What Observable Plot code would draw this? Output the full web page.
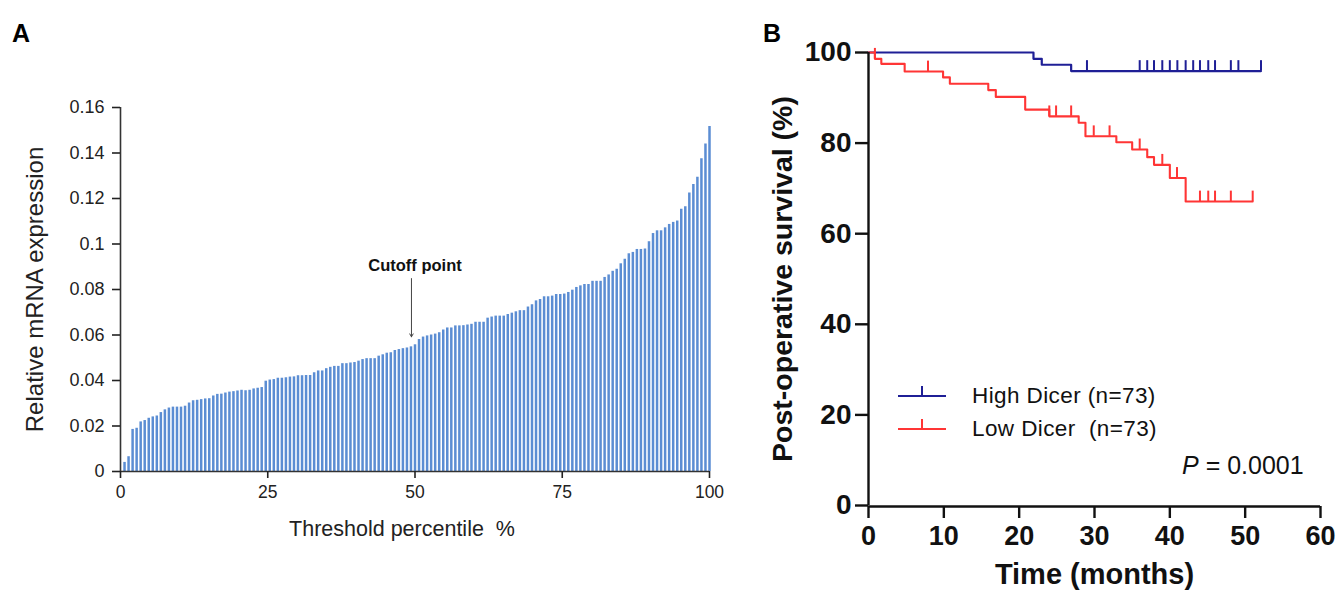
<!DOCTYPE html>
<html><head><meta charset="utf-8">
<script src="https://cdn.jsdelivr.net/npm/d3@7"></script>
<script src="https://cdn.jsdelivr.net/npm/@observablehq/plot@0.6"></script>
<style>
body{margin:0;background:#fff;}
#wrap{position:relative;width:1340px;height:597px;font-family:"Liberation Sans",Arial,sans-serif;overflow:hidden;background:#fff}
#a,#b{position:absolute;top:0}
#a{left:0} #b{left:740px}
.panel{position:absolute;font-weight:bold;font-size:25px;line-height:1}
.leg{position:absolute;display:flex;align-items:center;font-size:22.5px;letter-spacing:0.4px;color:#111}
.leg svg{margin-right:26px}
#pval{position:absolute;left:1182px;top:451px;font-size:25px;color:#111}
</style></head>
<body><div id="wrap">
<div id="a"></div><div id="b"></div>
<div class="panel" style="left:12px;top:21px">A</div>
<div class="panel" style="left:763px;top:21px">B</div>
<div id="legend"></div>
<div id="pval"><i>P</i> = 0.0001</div>
</div>
<script>
// ---------- Panel A data: relative mRNA expression sorted (146 samples) ----------
const expression = [
0.004,0.0065,0.0185,0.019,0.0218,0.0224,0.0234,0.024,0.0244,0.0259,
0.0271,0.0279,0.0283,0.0283,0.0283,0.0287,0.0301,0.0311,0.0313,0.0316,
0.0319,0.032,0.0332,0.0339,0.034,0.0345,0.0349,0.0351,0.0354,0.0357,
0.0355,0.0357,0.0363,0.0366,0.0369,0.0397,0.0402,0.0404,0.041,0.041,
0.0412,0.0415,0.0416,0.0421,0.0421,0.0422,0.0422,0.0434,0.0442,0.0442,
0.0452,0.0458,0.0462,0.0462,0.0474,0.0474,0.0477,0.0479,0.0485,0.0492,
0.0496,0.0496,0.0496,0.0507,0.0513,0.052,0.0522,0.0532,0.0536,0.054,
0.0543,0.0548,0.0557,0.058,0.0591,0.0596,0.060,0.0604,0.061,0.0622,
0.0631,0.0631,0.064,0.064,0.0641,0.0644,0.0647,0.0656,0.0656,0.0656,
0.0674,0.0679,0.0683,0.0683,0.0683,0.069,0.0696,0.0702,0.0707,0.0707,
0.0723,0.0733,0.075,0.0756,0.0768,0.0768,0.0771,0.0778,0.0778,0.078,
0.0787,0.0797,0.0809,0.0816,0.0822,0.0822,0.0836,0.0836,0.0836,0.0853,
0.0864,0.088,0.0889,0.0913,0.0933,0.0957,0.0963,0.0976,0.0976,0.0978,
0.101,0.1046,0.1058,0.1058,0.1071,0.1086,0.1095,0.1101,0.1153,0.1164,
0.1224,0.1262,0.1293,0.1375,0.144,0.1517];
const yTicksA = [0,0.02,0.04,0.06,0.08,0.1,0.12,0.14,0.16];
const xTicksA = [0,25,50,75,100];
const cutoffPercentile = 50;
const cutoffLabel = "Cutoff point";

// ---------- Panel B data: Kaplan-Meier steps ----------
const highTimes    = [0, 21.9, 23.0, 26.9, 52.1];
const highSurvival = [100, 98.6, 97.3, 95.9, 95.9];
const highCensorT  = [29.0,36.0,37.0,37.9,39.0,40.0,41.0,42.1,43.1,44.0,45.1,46.0,48.1,49.1,52.1];
const lowTimes     = [0, 0.85, 1.7, 4.8, 9.9, 10.8, 15.9, 16.9, 20.8, 24.0, 27.9, 28.8, 32.9, 35.0, 37.0, 37.9, 40.0, 42.1, 51.0];
const lowSurvival  = [100, 98.6, 97.5, 95.8, 94.5, 93.1, 91.7, 90.2, 87.4, 85.9, 84.5, 81.5, 80.2, 78.6, 76.9, 75.2, 72.3, 67.1, 67.1];
const lowCensorT   = [0.85, 7.9, 24.0, 24.9, 26.9, 29.9, 32.0, 36.0, 39.0, 40.95, 44.0, 45.1, 46.0, 48.1, 51.0];
const xTicksB = [0,10,20,30,40,50,60];
const yTicksB = [0,20,40,60,80,100];
const groups = [
  {name:"High Dicer (n=73)", color:"#1f1f96"},
  {name:"Low Dicer\u00a0 (n=73)", color:"#ff3535"}
];

// ---------- Panel A ----------
const dataA = expression.map((v,i)=>({p:(i+1)/expression.length*100, v}));
const chartA = Plot.plot({
  width:740, height:597,
  marginLeft:120, marginRight:31, marginTop:107, marginBottom:126,
  style:{fontFamily:"'Liberation Sans',Arial,sans-serif", color:"#222", background:"transparent"},
  x:{domain:[0,100]},
  y:{domain:[0,0.16]},
  marks:[
    Plot.ruleX(dataA,{x:"p", y1:0, y2:"v", stroke:"#5b8dd3", strokeWidth:2.5}),
    Plot.ruleX([0],{y1:0,y2:0.16, stroke:"#333", strokeWidth:1.6}),
    Plot.ruleY([0],{stroke:"#333", strokeWidth:1.6}),
    Plot.axisY({ticks:yTicksA, tickSize:8, tickPadding:8, fontSize:18, tickFormat:d=>String(+d.toFixed(2)), label:null, strokeWidth:1.6}),
    Plot.axisX({ticks:xTicksA, tickSize:7, tickPadding:7, fontSize:17.5, label:null, strokeWidth:1.6}),
    Plot.text(["Relative mRNA expression"],{frameAnchor:"left", textAnchor:"middle", rotate:-90, dx:-85, fontSize:24}),
    Plot.text(["Threshold percentile\u00a0 %"],{frameAnchor:"bottom", dx:-13, dy:64, fontSize:21.5}),
    Plot.arrow([cutoffPercentile],{x1:d=>d-0.6, x2:d=>d-0.6, y1:0.0848, y2:0.0592, stroke:"#444", strokeWidth:1, headLength:5}),
    Plot.text([cutoffLabel],{x:cutoffPercentile, y:0.0905, fontWeight:"bold", fontSize:16.5, fill:"#111"})
  ]
});
document.getElementById("a").append(chartA);

// ---------- Panel B ----------
const steps = (times, surv, g) => times.map((t,i)=>({t, s:surv[i], g}));
const censor = (ct, times, surv, g) => ct.map(c=>{
  let s = surv[0];
  for (let i=0;i<times.length;i++) if (times[i] <= c) s = surv[i];
  return {t:c, s, g};
});
const highSteps = steps(highTimes, highSurvival, 0);
const lowSteps = steps(lowTimes, lowSurvival, 1);
const highCens = censor(highCensorT, highTimes, highSurvival, 0);
const lowCens = censor(lowCensorT, lowTimes, lowSurvival, 1);

const chartB = Plot.plot({
  width:600, height:597,
  marginLeft:128, marginRight:20, marginTop:52, marginBottom:92,
  style:{fontFamily:"'Liberation Sans',Arial,sans-serif", color:"#111", background:"transparent"},
  x:{domain:[0,60]},
  y:{domain:[0,100]},
  marks:[
    Plot.line(highSteps,{x:"t", y:"s", curve:"step-after", stroke:groups[0].color, strokeWidth:2.2}),
    Plot.ruleX(highCens,{x:"t", y1:"s", y2:d=>d.s+2.3, stroke:groups[0].color, strokeWidth:2}),
    Plot.line(lowSteps,{x:"t", y:"s", curve:"step-after", stroke:groups[1].color, strokeWidth:2.1}),
    Plot.ruleX(lowCens,{x:"t", y1:"s", y2:d=>d.s+2.3, stroke:groups[1].color, strokeWidth:2}),
    Plot.ruleX([0],{y1:0,y2:100, stroke:"#111", strokeWidth:2.4}),
    Plot.ruleY([0],{stroke:"#111", strokeWidth:2.4, dy:1}),
    Plot.axisY({ticks:yTicksB, tickSize:13, tickPadding:4, fontSize:28, fontWeight:"bold", label:null, strokeWidth:2.4}),
    Plot.axisX({ticks:xTicksB, tickSize:12, tickPadding:7, fontSize:27, fontWeight:"bold", label:null, strokeWidth:2.4, dy:1}),
    Plot.text(["Post-operative survival (%)"],{frameAnchor:"left", textAnchor:"middle", rotate:-90, dx:-86, fontSize:28.5, fontWeight:"bold"}),
    Plot.text(["Time (months)"],{frameAnchor:"bottom", dy:78, fontSize:29, fontWeight:"bold"})
  ]
});
document.getElementById("b").append(chartB);

// ---------- Legend ----------
const legend = document.getElementById("legend");
const legTops = [383, 416];
groups.forEach((g,i)=>{
  const row = document.createElement("div");
  row.className = "leg";
  row.style.left = "898px";
  row.style.top = legTops[i] + "px";
  row.innerHTML = `<svg width="48" height="26"><line x1="0" x2="48" y1="13" y2="13" stroke="${g.color}" stroke-width="2"/><line x1="24" x2="24" y1="3" y2="13" stroke="${g.color}" stroke-width="2"/></svg><span>${g.name}</span>`;
  legend.append(row);
});
</script>
</body></html>
